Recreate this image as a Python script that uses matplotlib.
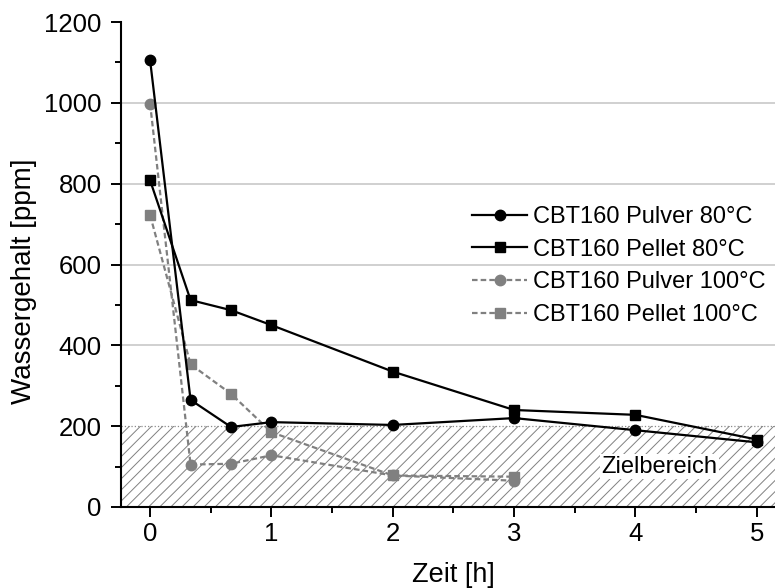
import matplotlib.pyplot as plt
import numpy as np
from matplotlib.ticker import MultipleLocator

plt.rcParams['font.family'] = ['Liberation Sans', 'DejaVu Sans']
plt.rcParams['hatch.linewidth'] = 0.7

# data
zeit_80 = [0, 1/3, 2/3, 1, 2, 3, 4, 5]
pulver_80 = [1105, 265, 198, 210, 203, 220, 190, 160]
pellet_80 = [808, 512, 487, 450, 335, 240, 228, 167]

zeit_100 = [0, 1/3, 2/3, 1, 2, 3]
pulver_100 = [998, 105, 107, 128, 78, 65]
pellet_100 = [722, 353, 280, 185, 78, 75]

ziel = 200

fig = plt.figure(figsize=(7.75, 5.88), dpi=100)
ax = fig.add_axes([121/775, 1 - 507/588, 1 - 121/775, (507 - 22)/588])

grau = '#808080'

# target area
ax.axhspan(0, ziel, facecolor='none', edgecolor='#808080', linewidth=0, hatch='///', zorder=1)
ax.axhline(ziel, color='#8c8c8c', lw=0.9, ls=':', zorder=1.5)
ax.text(4.2, 100, 'Zielbereich', fontsize=17, ha='center', va='center', zorder=2,
        bbox=dict(facecolor='white', edgecolor='none', pad=1))

for y in [400, 600, 800, 1000]:
    ax.axhline(y, color='#c8c8c8', lw=1.2, zorder=0.5)

ax.plot(zeit_80, pulver_80, color='black', lw=1.6, marker='o', ms=7.5, label='CBT160 Pulver 80°C', zorder=4)
ax.plot(zeit_80, pellet_80, color='black', lw=1.6, marker='s', ms=6.5, label='CBT160 Pellet 80°C', zorder=4)
ax.plot(zeit_100, pulver_100, color=grau, lw=1.6, ls=(0, (2.5, 1.4)), marker='o', ms=7.5,
        label='CBT160 Pulver 100°C', zorder=3)
ax.plot(zeit_100, pellet_100, color=grau, lw=1.6, ls=(0, (2.5, 1.4)), marker='s', ms=6.5,
        label='CBT160 Pellet 100°C', zorder=3)

ax.set_xlim(-0.24, 5.15)
ax.set_ylim(0, 1200)
ax.xaxis.set_major_locator(MultipleLocator(1))
ax.xaxis.set_minor_locator(MultipleLocator(0.5))
ax.yaxis.set_major_locator(MultipleLocator(200))
ax.yaxis.set_minor_locator(MultipleLocator(100))

ax.spines['top'].set_visible(False)
ax.spines['right'].set_visible(False)
ax.spines['left'].set_linewidth(1.5)
ax.spines['bottom'].set_linewidth(1.5)
ax.tick_params(which='major', length=7, width=1.4, labelsize=18.5, direction='out')
ax.tick_params(which='minor', length=4.5, width=1.4, direction='out')
ax.tick_params(axis='y', which='major', pad=7)

ax.set_xlabel('Zeit [h]', fontsize=19.5)
ax.set_ylabel('Wassergehalt [ppm]', fontsize=20)
ax.xaxis.set_label_coords(0.508, -0.113)
ax.yaxis.set_label_coords(-0.129, 0.466)

ax.legend(loc='upper left', bbox_to_anchor=(0.523, 0.64), frameon=False, fontsize=17,
          handlelength=2.3, handletextpad=0.25, labelspacing=0.45, numpoints=1,
          borderaxespad=0)

fig.savefig('out.png', dpi=100)
